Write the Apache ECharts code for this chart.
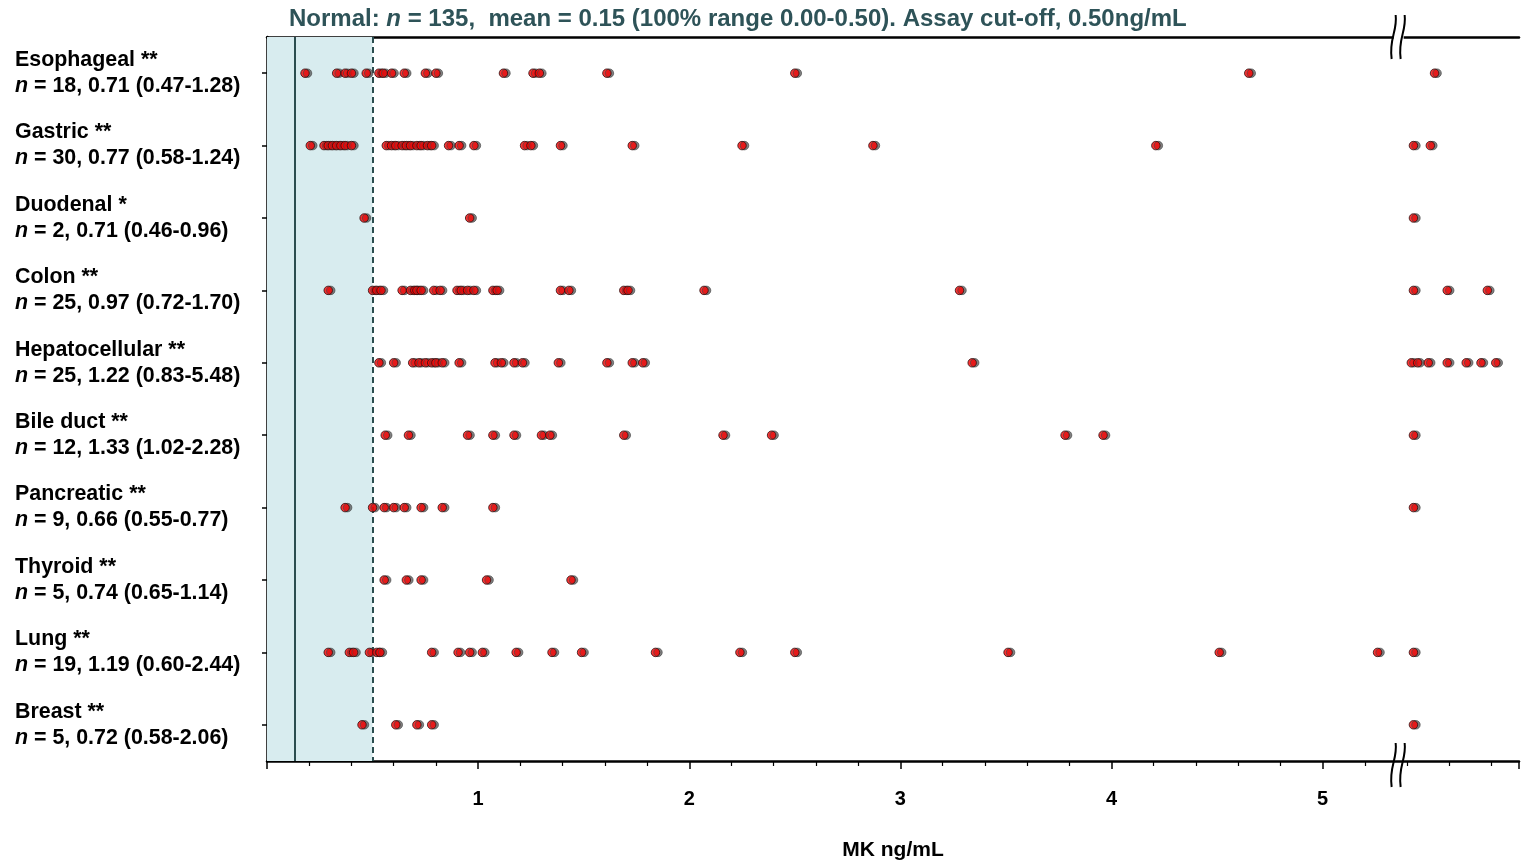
<!DOCTYPE html>
<html>
<head>
<meta charset="utf-8">
<script src="https://cdn.jsdelivr.net/npm/echarts@6/dist/echarts.min.js"></script>
<style>
html,body{margin:0;padding:0;background:#fff;overflow:hidden;}
#chart{width:1522px;height:866px;}
</style>
</head>
<body>
<div id="chart"></div>
<script>
const categories = ['Esophageal','Gastric','Duodenal','Colon','Hepatocellular','Bile duct','Pancreatic','Thyroid','Lung','Breast'];
const marks = ['**','**','*','**','**','**','**','**','**','**'];
const nCounts = [18,30,2,25,25,12,9,5,19,5];
const stats = ['0.71 (0.47-1.28)','0.77 (0.58-1.24)','0.71 (0.46-0.96)','0.97 (0.72-1.70)','1.22 (0.83-5.48)','1.33 (1.02-2.28)','0.66 (0.55-0.77)','0.74 (0.65-1.14)','1.19 (0.60-2.44)','0.72 (0.58-2.06)'];

const esophageal = [0.18,0.33,0.37,0.40,0.47,0.53,0.55,0.59,0.65,0.75,0.80,1.12,1.26,1.29,1.61,2.50,4.65,5.53];
const gastric = [0.205,0.27,0.29,0.31,0.33,0.35,0.37,0.40,0.565,0.59,0.61,0.64,0.66,0.68,0.71,0.73,0.76,0.78,0.86,0.91,0.98,1.22,1.25,1.39,1.73,2.25,2.87,4.21,5.43,5.51];
const duodenal = [0.46,0.96,5.43];
const colon = [0.29,0.50,0.52,0.54,0.64,0.68,0.70,0.71,0.73,0.79,0.82,0.90,0.92,0.95,0.98,1.07,1.09,1.39,1.43,1.69,1.71,2.07,3.28,5.43,5.59,5.78];
const hepatocellular = [0.53,0.60,0.69,0.72,0.75,0.78,0.80,0.83,0.91,1.08,1.11,1.17,1.21,1.38,1.61,1.73,1.78,3.34,5.42,5.45,5.50,5.59,5.68,5.75,5.82];
const bileDuct = [0.56,0.67,0.95,1.07,1.17,1.30,1.34,1.69,2.16,2.39,3.78,3.96,5.43];
const pancreatic = [0.37,0.50,0.555,0.60,0.65,0.73,0.83,1.07,5.43];
const thyroid = [0.555,0.66,0.73,1.04,1.44];
const lung = [0.29,0.39,0.41,0.485,0.52,0.535,0.78,0.905,0.96,1.02,1.18,1.35,1.49,1.84,2.24,2.50,3.51,4.51,5.26,5.43];
const breast = [0.45,0.61,0.71,0.78,5.43];

const normalMean = 0.13;
const cutoff = 0.50;
const breakAt = 5.36;
const xTicks = [1,2,3,4,5];

const groups = [esophageal,gastric,duodenal,colon,hepatocellular,bileDuct,pancreatic,thyroid,lung,breast];
const points = [];
groups.forEach((arr,i)=>arr.forEach(v=>points.push([v,categories[i]])));

const labelMap = {};
categories.forEach((c,i)=>{
  labelMap[c] = '{b|' + c + ' ' + marks[i] + '}\n{i|n}{b| = ' + nCounts[i] + ', ' + stats[i] + '}';
});

const FONT = '"Liberation Sans", Arial, sans-serif';
const dom = document.getElementById('chart');
const chart = echarts.init(dom, null, {width:1522, height:866});
const H = chart.getHeight();
chart.setOption({
  animation:false,
  backgroundColor:'#ffffff',
  title:{
    left:284, top:2,
    text:'{a|Normal: }{i|n}{a| = 135,  mean = 0.15 (100% range 0.00-0.50). Assay cut-off, 0.50ng/mL}',
    textStyle:{
      rich:{
        a:{fontFamily:FONT,fontWeight:'bold',fontSize:24,color:'#2e5358'},
        i:{fontFamily:FONT,fontWeight:'bold',fontStyle:'italic',fontSize:24,color:'#2e5358'}
      }
    }
  },
  grid:{left:267,right:0,top:37,bottom:101,containLabel:false},
  xAxis:[{
    type:'value', min:0, max:5.93, interval:1,
    axisLine:{show:true,lineStyle:{color:'#000',width:2.5}},
    axisTick:{show:true,length:8,lineStyle:{color:'#000',width:1.5}},
    minorTick:{show:true,splitNumber:5,length:5,lineStyle:{color:'#000',width:1.2}},
    splitLine:{show:false},
    axisLabel:{
      margin:28,
      fontFamily:FONT,fontWeight:'bold',fontSize:20,color:'#000',
      formatter:function(v){return xTicks.indexOf(Math.round(v*1000)/1000)>=0 ? String(v) : '';}
    },
    name:'MK ng/mL', nameLocation:'middle', nameGap:79,
    nameTextStyle:{fontFamily:FONT,fontWeight:'bold',fontSize:21,color:'#000'}
  },{
    type:'value', min:0, max:5.93, position:'top',
    axisLine:{show:true,lineStyle:{color:'#000',width:2.5}},
    axisTick:{show:false}, axisLabel:{show:false}, splitLine:{show:false}
  }],
  yAxis:{
    type:'category', inverse:true, data:categories,
    axisLine:{show:true,lineStyle:{color:'#000',width:2.5}},
    axisTick:{show:true,alignWithLabel:true,length:5,lineStyle:{color:'#000',width:1.5}},
    splitLine:{show:false},
    axisLabel:{
      align:'left', margin:252,
      formatter:function(v){return labelMap[v];},
      rich:{
        b:{fontFamily:FONT,fontWeight:'bold',fontSize:21.4,color:'#000',lineHeight:26},
        i:{fontFamily:FONT,fontWeight:'bold',fontStyle:'italic',fontSize:21.4,color:'#000',lineHeight:26}
      }
    }
  },
  series:[{
    type:'scatter',
    data:points,
    symbol:'circle',
    symbolSize:8.5,
    itemStyle:{color:'#ff0000',borderColor:'#2a1010',borderWidth:1,shadowColor:'rgba(70,70,70,0.85)',shadowOffsetX:2.5,shadowOffsetY:0,shadowBlur:0},
    z:5,
    markArea:{
      silent:true,
      itemStyle:{color:'#d8ecef'},
      data:[[{xAxis:0},{xAxis:cutoff}]]
    },
    markLine:{
      silent:true, symbol:'none', label:{show:false},
      data:[
        {xAxis:normalMean,lineStyle:{color:'#2b4d4f',width:2,type:'solid'}},
        {xAxis:cutoff,lineStyle:{color:'#2b4d4f',width:2,type:[6,4]}}
      ]
    }
  }]
});

// axis break decoration
const bx = chart.convertToPixel({xAxisIndex:0}, breakAt);
const topY = 37, botY = H - 101;
function breakMarks(x, y){
  const els = [];
  els.push({type:'rect',shape:{x:x-5,y:y-2,width:10,height:4},style:{fill:'#fff'},z:100});
  [-5,4].forEach(dx=>{
    els.push({type:'bezierCurve',
      shape:{x1:x+dx+2,y1:y-22,cpx1:x+dx+4,cpy1:y-6,cpx2:x+dx-5,cpy2:y+2,x2:x+dx-2,y2:y+22},
      style:{stroke:'#000',lineWidth:2,fill:null},z:101});
  });
  return els;
}
chart.setOption({graphic:{elements:[].concat(breakMarks(bx,topY),breakMarks(bx,botY))}});
</script>
</body>
</html>
